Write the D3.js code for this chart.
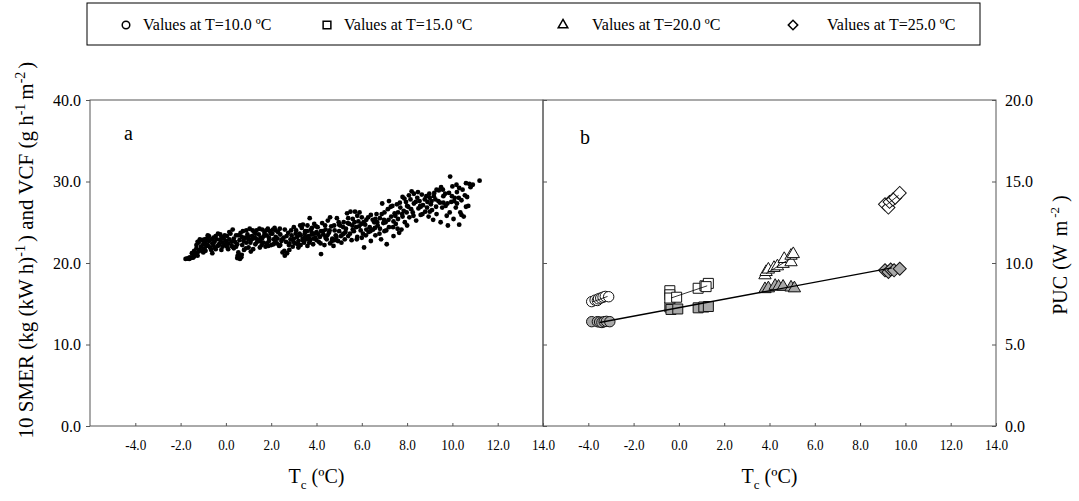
<!doctype html>
<html>
<head>
<script src="https://d3js.org/d3.v7.min.js"></script>
<style>
body { margin: 0; background: #fff; }
text { font-family: "Liberation Serif", "Times New Roman", serif; fill: #000; }
</style>
</head>
<body>
<svg width="1079" height="501"></svg>
<script>
// tick values
var xTicks = [-4, -2, 0, 2, 4, 6, 8, 10, 12, 14];
var leftTicks = [0, 10, 20, 30, 40];
var rightTicks = [0, 5, 10, 15, 20];
var legendLabels = ["Values at T=10.0 \u00baC", "Values at T=15.0 \u00baC", "Values at T=20.0 \u00baC", "Values at T=25.0 \u00baC"];

// panel a : [Tc, 10 SMER / VCF]
var scatterA = [
  [-1.78,20.5],[-1.7,20.55],[-1.62,20.5],[-1.55,20.6],[-1.5,20.7],[-1.45,20.65],[-1.4,20.8],[-1.35,21.0],[-1.3,21.2],[-1.25,20.9],[-1.6,20.7],[-1.2,21.4],[-1.15,21.6],
  [-1.3,22.2],[-1.2,22.5],[-1.1,22.0],[-1.05,22.8],[-1.0,22.3],[-0.95,21.8],[-0.9,22.6],[-0.85,23.0],[-0.8,22.2],[-0.75,22.7],[-0.7,21.9],[-0.65,22.9],[-0.6,22.4],[-0.55,23.1],[-0.5,22.6],[-0.45,21.7],[-0.4,22.9],[-0.35,23.6],[-0.3,22.3],[-0.25,22.8],[-0.2,23.2],[-0.15,22.5],[-0.1,23.0],[-0.05,22.2],[0.0,22.7],
  [-1.0,21.3],[-0.9,21.5],[-0.6,21.2],
  [0.05,23.3],[0.1,22.4],[0.15,22.9],[0.2,23.6],[0.25,22.1],[0.3,24.1],[0.35,23.0],[0.4,22.6],[0.45,23.4],[0.5,20.6],[0.52,20.9],[0.55,21.3],[0.6,22.8],[0.62,20.5],[0.65,23.7],[0.7,21.0],[0.72,22.2],[0.75,23.9],[0.8,21.6],[0.85,23.1],[0.9,22.5],[0.95,23.5],[1.0,21.9],
  [1.05,24.2],[1.1,22.8],[1.15,23.3],[1.2,21.7],[1.25,23.8],[1.3,22.3],[1.35,24.0],[1.4,22.9],[1.45,23.5],[1.5,21.9],[1.55,23.1],[1.6,24.1],[1.65,22.5],[1.7,23.7],[1.75,22.0],[1.8,23.4],[1.85,24.2],[1.9,22.7],[1.95,23.9],[2.0,22.2],
  [1.2,23.0],[1.5,22.7],[1.8,22.4],[1.1,21.4],
  [2.05,23.6],[2.1,22.9],[2.15,24.3],[2.2,23.2],[2.25,22.4],[2.3,23.8],[2.35,22.1],[2.4,23.5],[2.45,22.7],[2.5,21.3],[2.55,23.1],[2.6,20.9],[2.65,22.6],[2.7,21.2],[2.75,23.7],[2.8,21.6],[2.85,22.9],[2.9,23.4],[2.95,22.0],[3.0,23.0],
  [3.05,22.4],[3.1,24.0],[3.15,23.2],[3.2,22.7],[3.25,23.6],[3.3,22.2],[3.35,24.3],[3.4,23.0],[3.45,22.5],[3.5,23.9],[3.55,22.9],[3.6,24.6],[3.65,23.3],[3.7,25.5],[3.72,22.8],[3.75,24.1],[3.8,23.5],[3.85,22.3],[3.9,24.8],[3.95,23.1],[4.0,23.8],
  [3.3,23.4],[3.5,23.2],[3.7,23.0],[3.9,23.6],
  [4.05,24.4],[4.1,22.6],[4.15,23.2],[4.2,21.1],[4.25,24.9],[4.3,23.5],[4.35,22.2],[4.4,24.1],[4.45,22.9],[4.5,25.2],[4.55,23.7],[4.6,22.4],[4.65,24.5],[4.7,23.0],[4.75,22.1],[4.8,24.0],[4.85,23.4],[4.9,25.5],[4.95,22.7],[5.0,23.9],
  [5.05,24.6],[5.1,22.5],[5.15,23.5],[5.2,25.0],[5.25,22.9],[5.3,24.2],[5.35,26.1],[5.4,23.3],[5.45,24.8],[5.5,26.3],[5.55,22.8],[5.6,25.4],[5.65,23.9],[5.7,26.3],[5.75,24.4],[5.8,23.2],[5.85,25.1],[5.9,26.2],[5.95,24.0],[6.0,25.6],
  [6.05,23.6],[6.1,21.9],[6.15,24.7],[6.2,25.3],[6.3,23.8],[6.35,24.4],[6.4,25.9],[6.5,24.1],[6.55,25.0],[6.6,23.4],[6.65,26.0],[6.7,24.6],[6.8,25.5],[6.85,22.9],[6.9,27.3],[6.95,24.9],[7.0,26.2],
  [7.05,25.0],[7.1,22.3],[7.15,26.6],[7.2,24.4],[7.3,25.7],[7.35,27.0],[7.4,23.3],[7.45,26.1],[7.5,24.8],[7.55,27.2],[7.6,25.4],[7.65,23.7],[7.7,26.8],[7.75,24.1],[7.8,28.1],[7.85,26.4],[7.9,25.0],[7.95,27.5],[8.0,24.6],
  [8.05,26.9],[8.1,25.6],[8.15,27.8],[8.2,28.8],[8.25,26.2],[8.3,27.3],[8.4,25.2],[8.45,28.0],[8.5,26.7],[8.55,27.6],[8.6,25.9],[8.65,28.4],[8.7,27.1],[8.8,26.3],[8.85,28.2],[8.9,27.5],[8.95,25.7],[9.0,28.0],
  [9.05,27.2],[9.1,26.5],[9.15,25.3],[9.2,28.6],[9.25,27.8],[9.3,26.0],[9.4,28.9],[9.45,27.4],[9.5,29.3],[9.55,26.8],[9.6,28.2],[9.7,27.0],[9.75,25.8],[9.8,24.6],[9.85,28.6],[9.9,30.6],[9.95,27.5],[10.0,29.4],
  [10.05,25.4],[10.1,28.0],[10.15,26.8],[10.2,27.3],[10.3,24.7],[10.3,29.2],[10.35,26.2],[10.4,27.7],[10.5,25.7],[10.55,28.3],[10.6,29.8],[10.6,26.9],[10.7,27.0],[10.8,29.3],[10.9,29.6],[11.2,30.1],
  [-0.8,23.4],[-0.5,21.9],[-0.2,21.6],[0.1,21.7],[0.3,22.0],[0.5,22.3],[0.7,23.2],[0.9,24.0],[1.0,22.9],[1.3,23.6],[1.6,23.0],[1.9,23.1],[2.1,22.3],[2.2,24.0],[2.4,22.2],[2.6,24.1],[2.8,22.4],[3.0,24.4],[3.2,21.9],[3.4,24.7],[3.6,22.1],[3.8,24.3],[4.0,22.8],[4.2,23.9],[4.4,23.1],[4.6,25.6],[4.8,22.8],[5.0,24.7],[5.2,23.6],[5.4,25.5],[5.6,24.1],[5.8,25.8],[6.0,23.1],[6.2,24.1],[6.4,22.7],[6.6,25.4],[6.8,24.2],[7.0,23.9],[7.2,27.6],[7.4,25.1],[7.6,26.2],[7.8,25.7],[8.0,27.0],[8.3,28.5],[8.6,26.9],[9.0,26.3],[9.3,29.0],[9.6,27.4],[10.2,28.7],[10.4,25.9],
  [-1.5,21.2],[-1.4,21.5],[-1.3,21.8],[-1.25,22.6],[-1.15,22.9],[-1.05,21.5],[-0.95,22.9],[-0.85,22.1],[-0.75,23.3],[-0.65,21.6],[-0.55,22.2],[-0.45,23.3],[-0.35,22.1],[-0.25,23.5],[-0.15,22.0],[-0.05,23.4],[0.05,22.0],[0.15,23.8],[0.25,22.6],[0.35,21.8],[0.45,22.0],[0.55,23.4],[0.6,20.8],[0.68,20.7],[0.78,22.7],[0.88,21.8],[0.98,23.2],
  [1.08,22.5],[1.18,24.0],[1.28,23.1],[1.38,22.6],[1.48,24.2],[1.58,22.2],[1.68,23.3],[1.78,24.0],[1.88,22.1],[1.98,23.6],[2.08,24.1],[2.18,22.6],[2.28,23.0],[2.38,24.2],[2.48,22.9],[2.58,21.5],[2.68,23.3],[2.78,22.2],[2.88,24.0],[2.98,22.6],
  [3.08,23.6],[3.18,22.3],[3.28,24.6],[3.38,22.8],[3.48,23.6],[3.58,23.9],[3.68,22.5],[3.78,23.8],[3.88,23.0],[3.98,24.5],[4.08,23.5],[4.18,22.4],[4.28,23.9],[4.38,24.6],[4.48,23.4],[4.58,24.0],[4.68,22.7],[4.78,24.6],[4.88,23.2],[4.98,25.0],
  [5.08,23.3],[5.18,24.4],[5.28,23.8],[5.38,24.9],[5.48,23.6],[5.58,24.6],[5.68,25.0],[5.78,22.9],[5.88,24.5],[5.98,24.8],[6.08,25.0],[6.18,23.4],[6.28,25.6],[6.38,23.9],[6.48,25.3],[6.58,24.3],[6.68,25.0],[6.78,23.6],[6.88,26.0],[6.98,25.3],
  [7.08,24.0],[7.18,25.3],[7.28,26.9],[7.38,24.4],[7.48,25.8],[7.58,24.2],[7.68,27.4],[7.78,26.0],[7.88,27.9],[7.98,26.2],[8.08,28.3],[8.18,26.6],[8.28,25.8],[8.38,27.5],[8.48,28.7],[8.58,27.0],[8.68,26.0],[8.78,27.8],[8.88,26.8],[8.98,28.5],
  [9.08,27.6],[9.18,28.2],[9.28,26.9],[9.38,27.6],[9.48,25.0],[9.58,29.0],[9.68,28.5],[9.78,27.3],[9.88,26.2],[9.98,28.2],[10.08,27.6],[10.18,29.6],[10.28,28.0],[10.45,29.0],[10.65,28.1],[10.75,29.7]
];

// panel b : [Tc, PUC] ; open = values at T, grey = measured
var openCircles = [[-3.85,7.63],[-3.7,7.72],[-3.6,7.7],[-3.55,7.8],[-3.45,7.85],[-3.35,7.9],[-3.25,7.95],[-3.1,7.93]];
var greyCircles = [[-3.85,6.4],[-3.6,6.4],[-3.5,6.38],[-3.4,6.35],[-3.3,6.4],[-3.2,6.42],[-3.05,6.4]];
var openSquares = [[-0.4,8.3],[-0.4,8.05],[-0.4,7.85],[-0.1,7.9],[0.85,8.45],[1.15,8.6],[1.3,8.75],[1.2,8.55]];
var greySquares = [[-0.4,7.3],[-0.35,7.15],[-0.05,7.18],[0.85,7.25],[1.1,7.3],[1.3,7.33]];
var openTriangles = [[3.8,9.25],[3.85,9.45],[3.95,9.6],[4.2,9.7],[4.35,9.8],[4.6,9.95],[4.65,10.25],[4.95,10.05],[4.95,10.45],[5.05,10.55]];
var greyTriangles = [[3.8,8.4],[3.95,8.45],[4.25,8.6],[4.4,8.55],[4.6,8.55],[4.95,8.5],[5.1,8.45]];
var openDiamonds = [[9.1,13.6],[9.25,13.4],[9.3,13.75],[9.45,13.9],[9.55,14.0],[9.75,14.3]];
var greyDiamonds = [[9.1,9.55],[9.25,9.45],[9.35,9.6],[9.5,9.55],[9.75,9.65]];

// fitted lines
var fitGrey = [[-3.5,6.35],[9.4,9.7]];
var fitOpen = [
  [[-3.8,7.62],[-3.15,7.95]],
  [[-0.35,7.85],[1.25,8.6]],
  [[3.85,9.35],[4.95,10.3]],
  [[9.15,13.55],[9.7,14.15]]
];

var svg = d3.select("svg");
var serif = "'Liberation Serif', 'Times New Roman', serif";
var axisColor = "#555";
var plotTop = 100, plotBottom = 426;

var xA = d3.scaleLinear().domain([-6, 14]).range([90, 543]);
var xB = d3.scaleLinear().domain([-6, 14]).range([543, 996]);
var yA = d3.scaleLinear().domain([0, 40]).range([plotBottom, plotTop]);
var yB = d3.scaleLinear().domain([0, 20]).range([plotBottom, plotTop]);

function fmt(d) { return d.toFixed(1); }

function styleAxis(g) {
  g.attr("font-family", null);
  g.select(".domain").remove();
  g.selectAll(".tick line").attr("stroke", axisColor);
  g.selectAll("text").style("font-family", serif).attr("fill", "#000");
}

// frames
svg.append("rect").attr("x", 90).attr("y", plotTop).attr("width", 453).attr("height", plotBottom - plotTop)
  .attr("fill", "none").attr("stroke", axisColor);
svg.append("rect").attr("x", 543).attr("y", plotTop).attr("width", 453).attr("height", plotBottom - plotTop)
  .attr("fill", "none").attr("stroke", axisColor);

// bottom axes
[xA, xB].forEach(function (sc) {
  var g = svg.append("g").attr("transform", "translate(0," + plotBottom + ")")
    .call(d3.axisBottom(sc).tickValues(xTicks).tickFormat(fmt).tickSize(-3).tickPadding(13));
  styleAxis(g);
  g.selectAll("text").style("font-size", "15px").attr("transform", "scale(0.88,1)");
});

// left axis of panel a
var gl = svg.append("g").attr("transform", "translate(90,0)")
  .call(d3.axisLeft(yA).tickValues(leftTicks).tickFormat(fmt).tickSize(4).tickPadding(5));
styleAxis(gl);
gl.selectAll("text").style("font-size", "16px");

// inner ticks on left side of panel b
var gi = svg.append("g").attr("transform", "translate(543,0)")
  .call(d3.axisRight(yB).tickValues(rightTicks).tickFormat("").tickSize(4));
styleAxis(gi);

// right axis of panel b
var gr = svg.append("g").attr("transform", "translate(996,0)")
  .call(d3.axisRight(yB).tickValues(rightTicks).tickFormat(fmt).tickSize(-4).tickPadding(9));
styleAxis(gr);
gr.selectAll("text").style("font-size", "16px");

// panel a scatter
svg.append("g").selectAll("circle").data(scatterA).enter().append("circle")
  .attr("cx", function (d) { return xA(d[0]); })
  .attr("cy", function (d) { return yA(d[1]); })
  .attr("r", 2.4)
  .attr("fill", "#000");

// panel b
var line = d3.line().x(function (d) { return xB(d[0]); }).y(function (d) { return yB(d[1]); });

var shapes = {
  circle: d3.symbol().type(d3.symbolCircle).size(85),
  square: d3.symbol().type(d3.symbolSquare).size(100),
  triangle: d3.symbol().type(d3.symbolTriangle).size(66),
  diamond: d3.symbol().type(d3.symbolSquare).size(85)
};

function drawGroup(data, shape, fill) {
  svg.append("g").selectAll("path").data(data).enter().append("path")
    .attr("d", shapes[shape])
    .attr("transform", function (d) {
      return "translate(" + xB(d[0]) + "," + yB(d[1]) + ")" + (shape === "diamond" ? " rotate(45)" : "");
    })
    .attr("fill", fill)
    .attr("stroke", "#111")
    .attr("stroke-width", 1);
}

drawGroup(greyCircles, "circle", "#a9a9a9");
drawGroup(greySquares, "square", "#a9a9a9");
drawGroup(greyTriangles, "triangle", "#a9a9a9");
drawGroup(greyDiamonds, "diamond", "#a9a9a9");
drawGroup(openCircles, "circle", "#fff");
drawGroup(openSquares, "square", "#fff");
drawGroup(openTriangles, "triangle", "#fff");
drawGroup(openDiamonds, "diamond", "#fff");

fitOpen.forEach(function (seg) {
  svg.append("path").datum(seg).attr("d", line)
    .attr("fill", "none").attr("stroke", "#000").attr("stroke-width", 0.8);
});
svg.append("path").datum(fitGrey).attr("d", line)
  .attr("fill", "none").attr("stroke", "#000").attr("stroke-width", 1.3);

// panel letters
svg.append("text").attr("x", 124).attr("y", 140).style("font-family", serif).style("font-size", "20px").text("a");
svg.append("text").attr("x", 580).attr("y", 144).style("font-family", serif).style("font-size", "20px").text("b");

// x labels
[xA, xB].forEach(function (sc) {
  var t = svg.append("text").attr("x", (sc.range()[0] + sc.range()[1]) / 2).attr("y", 483)
    .attr("text-anchor", "middle").style("font-family", serif).style("font-size", "20px");
  t.append("tspan").text("T");
  t.append("tspan").attr("dy", 6).style("font-size", "13px").text("c");
  t.append("tspan").attr("dy", -6).text(" (\u00baC)");
});

// left y label
var yl = svg.append("text").attr("transform", "translate(33,250) rotate(-90)")
  .attr("text-anchor", "middle").style("font-family", serif).style("font-size", "21px");
yl.append("tspan").text("10 SMER (kg (kW h)");
yl.append("tspan").attr("dy", -8).style("font-size", "14px").text("-1");
yl.append("tspan").attr("dy", 8).attr("dx", 3).text(") and VCF (g h");
yl.append("tspan").attr("dy", -8).style("font-size", "14px").text("-1");
yl.append("tspan").attr("dy", 8).attr("dx", 4).text("m");
yl.append("tspan").attr("dy", -8).style("font-size", "14px").text("-2");
yl.append("tspan").attr("dy", 8).attr("dx", 3).text(")");

// right y label
var yr = svg.append("text").attr("transform", "translate(1067,255) rotate(-90)")
  .attr("text-anchor", "middle").style("font-family", serif).style("font-size", "20px");
yr.append("tspan").text("PUC");
yr.append("tspan").attr("dx", 6).text("(W");
yr.append("tspan").attr("dx", 8).text("m");
yr.append("tspan").attr("dy", -8).attr("dx", 3).style("font-size", "13px").text("-2");
yr.append("tspan").attr("dy", 8).attr("dx", 5).text(")");

// legend
svg.append("rect").attr("x", 87).attr("y", 3).attr("width", 893).attr("height", 42)
  .attr("fill", "#fff").attr("stroke", "#000");
var legendShapes = ["circle", "square", "triangle", "diamond"];
var legendSym = {
  circle: d3.symbol().type(d3.symbolCircle).size(45),
  square: d3.symbol().type(d3.symbolSquare).size(60),
  triangle: d3.symbol().type(d3.symbolTriangle).size(40),
  diamond: d3.symbol().type(d3.symbolSquare).size(45)
};
var legendSymX = [126, 327, 563, 793];
var legendTextX = [143, 344, 592, 827];
legendLabels.forEach(function (lab, i) {
  var s = legendShapes[i];
  svg.append("path").attr("d", legendSym[s])
    .attr("transform", "translate(" + legendSymX[i] + ",25)" + (s === "diamond" ? " rotate(45)" : ""))
    .attr("fill", "#fff").attr("stroke", "#000").attr("stroke-width", 1.5);
  svg.append("text").attr("x", legendTextX[i]).attr("y", 30).style("font-family", serif).style("font-size", "16px").text(lab);
});
</script>
</body>
</html>
